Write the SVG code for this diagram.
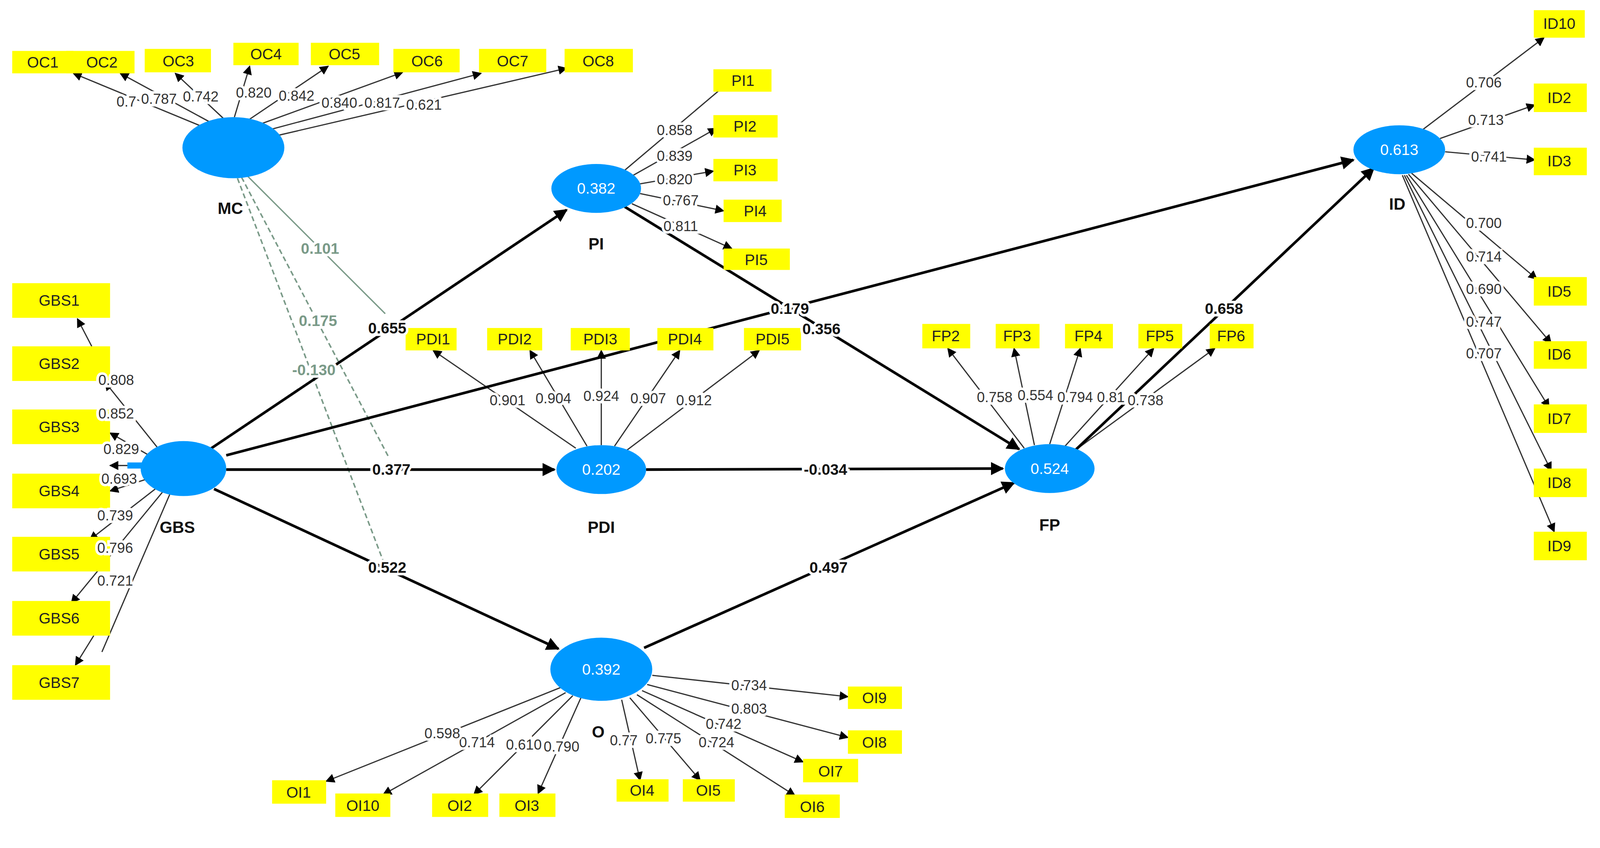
<svg xmlns="http://www.w3.org/2000/svg" width="4185" height="2172" viewBox="0 0 4185 2172">
<style>
.box{fill:#ffff00}
.bt{font-family:"Liberation Sans",Arial,sans-serif;font-size:15px;fill:#222;text-anchor:middle;dominant-baseline:central}
.lv{fill:#0099ff}
.lvt{font-family:"Liberation Sans",Arial,sans-serif;font-size:15px;fill:#fff;text-anchor:middle;dominant-baseline:central}
.nm{font-family:"Liberation Sans",Arial,sans-serif;font-size:16px;font-weight:bold;fill:#111;text-anchor:middle}
.ld{stroke:#333;stroke-width:1.2;fill:none;marker-end:url(#a)}
.st{stroke:#000;stroke-width:2.6;fill:none;marker-end:url(#b)}
.lt{font-family:"Liberation Sans",Arial,sans-serif;font-size:14px;fill:#333;text-anchor:middle;dominant-baseline:central;paint-order:stroke;stroke:#fff;stroke-width:5px}
.sl{font-family:"Liberation Sans",Arial,sans-serif;font-size:15px;font-weight:bold;fill:#111;text-anchor:middle;dominant-baseline:central;paint-order:stroke;stroke:#fff;stroke-width:5px}
.ml{font-family:"Liberation Sans",Arial,sans-serif;font-size:15px;font-weight:bold;fill:#7a9a88;text-anchor:middle;dominant-baseline:central;paint-order:stroke;stroke:#fff;stroke-width:5px}
.md{stroke:#7a9a88;stroke-width:1.5;fill:none;stroke-dasharray:5 3}
</style>
<defs>
<marker id="a" viewBox="0 0 10 10" refX="9" refY="5" markerWidth="9" markerHeight="9" markerUnits="userSpaceOnUse" orient="auto"><path d="M0,0L10,5L0,10z" fill="#000"/></marker>
<marker id="b" viewBox="0 0 10 10" refX="9" refY="5" markerWidth="5" markerHeight="5" orient="auto"><path d="M0,0L10,5L0,10z" fill="#000"/></marker>
</defs>
<rect width="4185" height="2172" fill="#fff"/>
<g transform="scale(2.609)">
<g id="connectors">
<path class="ld" d="M205,127L72,72"/><path class="ld" d="M210,122L118,72"/><path class="ld" d="M220,117L172,72"/>
<path class="ld" d="M230,115L245,65"/><path class="ld" d="M245,117L322,65"/><path class="ld" d="M255,122L395,71"/>
<path class="ld" d="M262,128L472,72"/><path class="ld" d="M268,134L556,67"/>
<path class="ld" d="M612,168L716,80"/><path class="ld" d="M618,174L703,126"/><path class="ld" d="M625,181L700,168"/>
<path class="ld" d="M628,190L710,207"/><path class="ld" d="M620,200L718,244"/>
<path class="ld" d="M90,340L76,313"/><path class="ld" d="M155,440L103,375"/><path class="ld" d="M148,448L108,425"/>
<path class="ld" d="M142,457L108,457"/><path class="ld" d="M145,470L108,482"/><path class="ld" d="M155,478L88,530"/>
<path class="ld" d="M162,480L70,592"/><path stroke="#333" stroke-width="1.2" fill="none" d="M168,482L100,640"/>
<path class="ld" d="M92,624L74,653"/>
<path class="ld" d="M565,440L425,344"/><path class="ld" d="M576,438L520,344"/><path class="ld" d="M590,437L590,344"/>
<path class="ld" d="M603,438L667,344"/><path class="ld" d="M615,442L745,344"/>
<path class="ld" d="M1005,440L930,342"/><path class="ld" d="M1015,437L995,342"/><path class="ld" d="M1030,436L1060,342"/>
<path class="ld" d="M1045,438L1132,342"/><path class="ld" d="M1055,442L1192,342"/>
<path class="ld" d="M1395,128L1515,37"/><path class="ld" d="M1413,136L1506,103"/><path class="ld" d="M1418,149L1506,157"/>
<path class="ld" d="M1385,170L1508,274"/><path class="ld" d="M1382,171L1522,337"/><path class="ld" d="M1380,172L1520,400"/>
<path class="ld" d="M1378,172L1522,462"/><path class="ld" d="M1376,172L1525,522"/>
<path class="ld" d="M640,663L832,684"/><path class="ld" d="M635,672L832,724"/><path class="ld" d="M630,678L788,748"/>
<path class="ld" d="M625,682L780,781"/><path class="ld" d="M618,685L687,766"/><path class="ld" d="M610,687L628,766"/>
<path class="ld" d="M570,685L528,779"/><path class="ld" d="M562,683L465,780"/><path class="ld" d="M555,680L376,780"/>
<path class="ld" d="M550,675L320,767"/>
<path stroke="#7a9a88" stroke-width="1.3" fill="none" d="M242,172L378,308"/>
<path class="md" d="M237,174L382,450"/><path class="md" d="M233,175L378,556"/>
<path class="st" d="M203,443L556,206"/><path class="st" d="M222,447L1328,157"/><path class="st" d="M222,461L544,461"/>
<path class="st" d="M210,480L548,637"/><path class="st" d="M613,203L1000,441"/><path class="st" d="M634,461L984,460"/>
<path class="st" d="M632,636L995,474"/><path class="st" d="M1055,442L1348,165"/>
</g>
<g id="MC"><ellipse class="lv" cx="229" cy="145" rx="50" ry="30"/><text class="nm" x="226" y="210">MC</text></g>
<g id="PI"><ellipse class="lv" cx="585" cy="185" rx="44" ry="24"/><text class="lvt" x="585" y="185">0.382</text><text class="nm" x="585" y="245">PI</text></g>
<g id="GBS"><ellipse class="lv" cx="180" cy="460" rx="42" ry="27"/><rect class="lv" x="125" y="454" width="20" height="6"/><text class="nm" x="174" y="523">GBS</text></g>
<g id="PDI"><ellipse class="lv" cx="590" cy="461" rx="44" ry="24"/><text class="lvt" x="590" y="461">0.202</text><text class="nm" x="590" y="523">PDI</text></g>
<g id="FP"><ellipse class="lv" cx="1030" cy="460" rx="44" ry="24"/><text class="lvt" x="1030" y="460">0.524</text><text class="nm" x="1030" y="521">FP</text></g>
<g id="OI"><ellipse class="lv" cx="590" cy="657" rx="50" ry="31"/><text class="lvt" x="590" y="657">0.392</text><text class="nm" x="587" y="724">O</text></g>
<g id="ID"><ellipse class="lv" cx="1373" cy="147" rx="45" ry="24"/><text class="lvt" x="1373" y="147">0.613</text><text class="nm" x="1371" y="206">ID</text></g>
<g id="indicators">
<g id="OC1"><rect class="box" x="12" y="50" width="60" height="22"/><text class="bt" x="42" y="61">OC1</text></g>
<g id="OC2"><rect class="box" x="65" y="50" width="67" height="22"/><text class="bt" x="100" y="61">OC2</text></g>
<g id="OC3"><rect class="box" x="142" y="48" width="65" height="23"/><text class="bt" x="175" y="60">OC3</text></g>
<g id="OC4"><rect class="box" x="229" y="42" width="64" height="22"/><text class="bt" x="261" y="53">OC4</text></g>
<g id="OC5"><rect class="box" x="305" y="42" width="67" height="22"/><text class="bt" x="338" y="53">OC5</text></g>
<g id="OC6"><rect class="box" x="386" y="48" width="65" height="23"/><text class="bt" x="419" y="60">OC6</text></g>
<g id="OC7"><rect class="box" x="470" y="48" width="66" height="23"/><text class="bt" x="503" y="60">OC7</text></g>
<g id="OC8"><rect class="box" x="554" y="48" width="67" height="23"/><text class="bt" x="587" y="60">OC8</text></g>
<g id="PI1"><rect class="box" x="700" y="68" width="57" height="22"/><text class="bt" x="729" y="79">PI1</text></g>
<g id="PI2"><rect class="box" x="700" y="113" width="63" height="22"/><text class="bt" x="731" y="124">PI2</text></g>
<g id="PI3"><rect class="box" x="700" y="156" width="63" height="22"/><text class="bt" x="731" y="167">PI3</text></g>
<g id="PI4"><rect class="box" x="710" y="196" width="57" height="22"/><text class="bt" x="741" y="207">PI4</text></g>
<g id="PI5"><rect class="box" x="710" y="244" width="65" height="21"/><text class="bt" x="742" y="255">PI5</text></g>
<g id="GBS1"><rect class="box" x="12" y="278" width="96" height="34"/><text class="bt" x="58" y="295">GBS1</text></g>
<g id="GBS2"><rect class="box" x="12" y="340" width="96" height="34"/><text class="bt" x="58" y="357">GBS2</text></g>
<g id="GBS3"><rect class="box" x="12" y="402" width="96" height="34"/><text class="bt" x="58" y="419">GBS3</text></g>
<g id="GBS4"><rect class="box" x="12" y="465" width="96" height="34"/><text class="bt" x="58" y="482">GBS4</text></g>
<g id="GBS5"><rect class="box" x="12" y="527" width="96" height="34"/><text class="bt" x="58" y="544">GBS5</text></g>
<g id="GBS6"><rect class="box" x="12" y="590" width="96" height="34"/><text class="bt" x="58" y="607">GBS6</text></g>
<g id="GBS7"><rect class="box" x="12" y="653" width="96" height="34"/><text class="bt" x="58" y="670">GBS7</text></g>
<g id="PDI1"><rect class="box" x="398" y="322" width="50" height="22"/><text class="bt" x="425" y="333">PDI1</text></g>
<g id="PDI2"><rect class="box" x="478" y="322" width="54" height="22"/><text class="bt" x="505" y="333">PDI2</text></g>
<g id="PDI3"><rect class="box" x="560" y="322" width="58" height="22"/><text class="bt" x="589" y="333">PDI3</text></g>
<g id="PDI4"><rect class="box" x="645" y="322" width="55" height="22"/><text class="bt" x="672" y="333">PDI4</text></g>
<g id="PDI5"><rect class="box" x="730" y="322" width="56" height="22"/><text class="bt" x="758" y="333">PDI5</text></g>
<g id="FP2"><rect class="box" x="905" y="318" width="47" height="24"/><text class="bt" x="928" y="330">FP2</text></g>
<g id="FP3"><rect class="box" x="977" y="318" width="43" height="24"/><text class="bt" x="998" y="330">FP3</text></g>
<g id="FP4"><rect class="box" x="1045" y="318" width="47" height="24"/><text class="bt" x="1068" y="330">FP4</text></g>
<g id="FP5"><rect class="box" x="1117" y="318" width="43" height="24"/><text class="bt" x="1138" y="330">FP5</text></g>
<g id="FP6"><rect class="box" x="1187" y="318" width="43" height="24"/><text class="bt" x="1208" y="330">FP6</text></g>
<g id="ID10"><rect class="box" x="1505" y="10" width="50" height="27"/><text class="bt" x="1530" y="23">ID10</text></g>
<g id="ID2"><rect class="box" x="1505" y="82" width="52" height="28"/><text class="bt" x="1530" y="96">ID2</text></g>
<g id="ID3"><rect class="box" x="1505" y="145" width="52" height="27"/><text class="bt" x="1530" y="158">ID3</text></g>
<g id="ID5"><rect class="box" x="1505" y="272" width="52" height="28"/><text class="bt" x="1530" y="286">ID5</text></g>
<g id="ID6"><rect class="box" x="1505" y="335" width="52" height="27"/><text class="bt" x="1530" y="348">ID6</text></g>
<g id="ID7"><rect class="box" x="1505" y="397" width="52" height="28"/><text class="bt" x="1530" y="411">ID7</text></g>
<g id="ID8"><rect class="box" x="1505" y="460" width="52" height="28"/><text class="bt" x="1530" y="474">ID8</text></g>
<g id="ID9"><rect class="box" x="1505" y="522" width="52" height="28"/><text class="bt" x="1530" y="536">ID9</text></g>
<g id="OI9"><rect class="box" x="832" y="674" width="53" height="22"/><text class="bt" x="858" y="685">OI9</text></g>
<g id="OI8"><rect class="box" x="832" y="717" width="53" height="23"/><text class="bt" x="858" y="729">OI8</text></g>
<g id="OI7"><rect class="box" x="788" y="745" width="54" height="23"/><text class="bt" x="815" y="757">OI7</text></g>
<g id="OI6"><rect class="box" x="770" y="780" width="54" height="23"/><text class="bt" x="797" y="792">OI6</text></g>
<g id="OI5"><rect class="box" x="670" y="765" width="51" height="22"/><text class="bt" x="695" y="776">OI5</text></g>
<g id="OI4"><rect class="box" x="605" y="765" width="51" height="22"/><text class="bt" x="630" y="776">OI4</text></g>
<g id="OI3"><rect class="box" x="490" y="779" width="55" height="23"/><text class="bt" x="517" y="791">OI3</text></g>
<g id="OI2"><rect class="box" x="424" y="779" width="55" height="23"/><text class="bt" x="451" y="791">OI2</text></g>
<g id="OI1"><rect class="box" x="267" y="766" width="53" height="23"/><text class="bt" x="293" y="778">OI1</text></g>
<g id="OI10"><rect class="box" x="329" y="779" width="54" height="23"/><text class="bt" x="356" y="791">OI10</text></g>
</g>
<g id="connector-labels">
<text class="lt" x="124" y="100">0.7</text><text class="lt" x="156" y="97">0.787</text><text class="lt" x="197" y="95">0.742</text>
<text class="lt" x="249" y="91">0.820</text><text class="lt" x="291" y="94">0.842</text><text class="lt" x="333" y="101">0.840</text>
<text class="lt" x="375" y="101">0.817</text><text class="lt" x="416" y="103">0.621</text>
<text class="lt" x="662" y="128">0.858</text><text class="lt" x="662" y="153">0.839</text><text class="lt" x="662" y="176">0.820</text>
<text class="lt" x="668" y="197">0.767</text><text class="lt" x="668" y="222">0.811</text>
<text class="lt" x="114" y="373">0.808</text><text class="lt" x="114" y="406">0.852</text><text class="lt" x="119" y="441">0.829</text>
<text class="lt" x="117" y="470">0.693</text><text class="lt" x="113" y="506">0.739</text><text class="lt" x="113" y="538">0.796</text>
<text class="lt" x="113" y="570">0.721</text>
<text class="lt" x="498" y="393">0.901</text><text class="lt" x="543" y="391">0.904</text><text class="lt" x="590" y="389">0.924</text>
<text class="lt" x="636" y="391">0.907</text><text class="lt" x="681" y="393">0.912</text>
<text class="lt" x="976" y="390">0.758</text><text class="lt" x="1016" y="388">0.554</text><text class="lt" x="1055" y="390">0.794</text>
<text class="lt" x="1090" y="390">0.81</text><text class="lt" x="1124" y="393">0.738</text>
<text class="lt" x="1456" y="81">0.706</text><text class="lt" x="1458" y="118">0.713</text><text class="lt" x="1461" y="154">0.741</text>
<text class="lt" x="1456" y="219">0.700</text><text class="lt" x="1456" y="252">0.714</text><text class="lt" x="1456" y="284">0.690</text>
<text class="lt" x="1456" y="316">0.747</text><text class="lt" x="1456" y="347">0.707</text>
<text class="lt" x="735" y="673">0.734</text><text class="lt" x="735" y="696">0.803</text><text class="lt" x="710" y="711">0.742</text>
<text class="lt" x="703" y="729">0.724</text><text class="lt" x="651" y="725">0.775</text><text class="lt" x="612" y="727">0.77</text>
<text class="lt" x="551" y="733">0.790</text><text class="lt" x="514" y="731">0.610</text><text class="lt" x="468" y="729">0.714</text>
<text class="lt" x="434" y="720">0.598</text>
<text class="ml" x="314" y="244">0.101</text><text class="ml" x="312" y="315">0.175</text><text class="ml" x="308" y="363">-0.130</text>
<text class="sl" x="380" y="322">0.655</text><text class="sl" x="775" y="303">0.179</text><text class="sl" x="806" y="323">0.356</text>
<text class="sl" x="384" y="461">0.377</text><text class="sl" x="810" y="461">-0.034</text><text class="sl" x="380" y="557">0.522</text>
<text class="sl" x="813" y="557">0.497</text><text class="sl" x="1201" y="303">0.658</text>
</g>
</g>
</svg>
